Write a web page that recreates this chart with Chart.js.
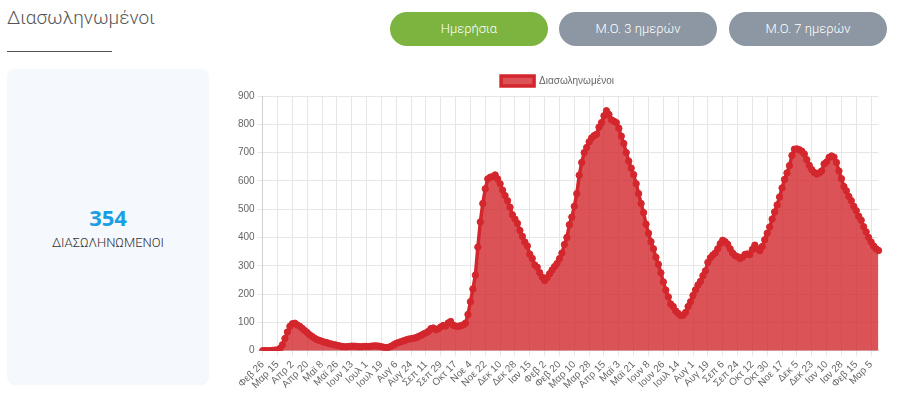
<!DOCTYPE html>
<html lang="el">
<head>
<meta charset="utf-8">
<title>Διασωληνωμένοι</title>
<script src="https://cdn.jsdelivr.net/npm/chart.js@4.4.1/dist/chart.umd.min.js"></script>
<style>
html, body { margin: 0; padding: 0; background: #fff; }
body { width: 900px; height: 414px; position: relative; overflow: hidden; font-family: Roboto, "Open Sans", sans-serif; }
.title { position: absolute; left: 7px; top: 6px; font-size: 19px; font-weight: 300; color: #555; }
.rule { position: absolute; left: 7px; top: 51px; width: 105px; height: 1px; background: #555; }
.btn { position: absolute; top: 12px; width: 158px; height: 34px; line-height: 34px; border-radius: 17px; color: #fff; font-size: 13px; font-weight: 300; text-align: center; }
.btn.on { background: #7db43f; }
.btn.off { background: #8c97a3; }
.card { position: absolute; left: 7px; top: 69px; width: 202px; height: 316px; background: #f5f8fd; border-radius: 8px; text-align: center; }
.card .num { position: absolute; left: 0; right: 0; top: 133px; font-family: "Open Sans", sans-serif; font-size: 22px; font-weight: 700; color: #1a9fe3; }
.card .lbl { position: absolute; left: 0; right: 0; top: 166px; font-size: 13px; font-weight: 300; color: #333; }
.chart-wrap { position: absolute; left: 220px; top: 72px; width: 670px; height: 342px; }
</style>
</head>
<body>
<div class="title">Διασωληνωμένοι</div>
<div class="rule"></div>
<div class="btn on" style="left:390px;">Ημερήσια</div>
<div class="btn off" style="left:559px;">Μ.Ο. 3 ημερών</div>
<div class="btn off" style="left:729px;">Μ.Ο. 7 ημερών</div>
<div class="card">
  <div class="num">354</div>
  <div class="lbl">ΔΙΑΣΩΛΗΝΩΜΕΝΟΙ</div>
</div>
<div class="chart-wrap"><canvas id="chart"></canvas></div>
<script>
// one value every 3 days, from 26 Feb 2020
var startDate = [2020, 1, 26];
var stepDays = 3;
var labelEvery = 6; // a visible tick every 18 days

var intubated = [
  0, 0, 0, 0, 1, 2, 3, 8, 21, 43, 66, 86, 95, 97, 91, 86, 79, 71, 64, 56,
  50, 44, 39, 36, 33, 30, 28, 25, 23, 21, 19, 17, 15, 14, 14, 15, 16, 16, 15, 14,
  14, 15, 15, 15, 16, 17, 17, 16, 14, 12, 11, 12, 16, 21, 26, 29, 32, 35, 38, 41,
  42, 44, 46, 50, 54, 59, 63, 68, 78, 80, 74, 77, 84, 89, 87, 98, 103, 90, 87, 86,
  88, 91, 97, 128, 173, 218, 267, 366, 455, 520, 572, 607, 613, 615, 621, 607, 590, 567, 548, 530,
  507, 480, 465, 450, 425, 404, 384, 370, 341, 326, 303, 295, 276, 260, 248, 258, 272, 285, 297, 308,
  325, 345, 375, 400, 445, 472, 510, 555, 620, 665, 700, 718, 738, 752, 760, 765, 790, 806, 830, 848,
  835, 816, 811, 806, 786, 758, 732, 700, 670, 645, 622, 590, 555, 520, 488, 447, 415, 385, 360, 330,
  305, 275, 243, 214, 190, 165, 156, 140, 132, 124, 125, 135, 156, 173, 195, 215, 232, 245, 265, 282,
  312, 328, 338, 345, 360, 378, 390, 385, 376, 360, 345, 336, 332, 326, 330, 340, 342, 340, 358, 373,
  360, 353, 368, 392, 415, 437, 465, 490, 515, 543, 575, 605, 628, 654, 690, 712, 713, 710, 705, 695,
  675, 655, 640, 630, 624, 628, 635, 660, 667, 683, 688, 684, 665, 635, 608, 580, 565, 545, 530, 510,
  495, 475, 461, 438, 420, 400, 384, 370, 360, 354
];

var tickLabels = [
  "Φεβ 26", "Μαρ 15", "Απρ 2", "Απρ 20", "Μαϊ 8", "Μαϊ 26", "Ιουν 13", "Ιουλ 1", "Ιουλ 19", "Αυγ 6",
  "Αυγ 24", "Σεπ 11", "Σεπ 29", "Οκτ 17", "Νοε 4", "Νοε 22", "Δεκ 10", "Δεκ 28", "Ιαν 15", "Φεβ 2",
  "Φεβ 20", "Μαρ 10", "Μαρ 28", "Απρ 15", "Μαϊ 3", "Μαϊ 21", "Ιουν 8", "Ιουν 26", "Ιουλ 14", "Αυγ 1",
  "Αυγ 19", "Σεπ 6", "Σεπ 24", "Οκτ 12", "Οκτ 30", "Νοε 17", "Δεκ 5", "Δεκ 23", "Ιαν 10", "Ιαν 28",
  "Φεβ 15", "Μαρ 5"
];

var monthNames = ["Ιαν", "Φεβ", "Μαρ", "Απρ", "Μαϊ", "Ιουν", "Ιουλ", "Αυγ", "Σεπ", "Οκτ", "Νοε", "Δεκ"];

var lineColor = "#d3262d";
var fillColor = "rgba(211, 40, 45, 0.8)";
var gridColor = "#e6e6e6";

// category labels (dates) for each point
var categories = intubated.map(function(v, i) {
  var d = new Date(startDate[0], startDate[1], startDate[2] + i * stepDays);
  return monthNames[d.getMonth()] + " " + d.getDate();
});

Chart.defaults.font.family = '"Liberation Sans", Arial, sans-serif';
Chart.defaults.color = "#666";

new Chart(document.getElementById("chart").getContext("2d"), {
  type: "line",
  data: {
    labels: categories,
    datasets: [{
      label: "Διασωληνωμένοι",
      data: intubated,
      borderColor: lineColor,
      backgroundColor: fillColor,
      borderWidth: 3.5,
      pointRadius: 3.2,
      pointBorderWidth: 1,
      pointBackgroundColor: lineColor,
      pointBorderColor: lineColor,
      fill: true,
      tension: 0
    }]
  },
  options: {
    responsive: true,
    maintainAspectRatio: false,
    animation: false,
    layout: { padding: { left: 15, right: 10, top: 0, bottom: 20 } },
    plugins: {
      legend: {
        display: true,
        position: "top",
        labels: { font: { size: 10 }, boxWidth: 33, boxHeight: 10, padding: 4, color: "#666" }
      },
      tooltip: { enabled: false }
    },
    scales: {
      x: {
        grid: {
          color: function(ctx) { return ctx.index % labelEvery === 0 ? gridColor : "rgba(0,0,0,0)"; },
          tickLength: 5
        },
        border: { color: "#cfcfcf" },
        ticks: {
          autoSkip: false,
          minRotation: 45,
          maxRotation: 45,
          font: { size: 10 },
          color: "#666",
          callback: function(value, index) {
            return index % labelEvery === 0 ? (tickLabels[index / labelEvery] || "") : "";
          }
        }
      },
      y: {
        min: 0,
        max: 900,
        grid: { color: gridColor, tickLength: 5 },
        border: { color: "#cfcfcf" },
        ticks: { stepSize: 100, font: { size: 10 }, color: "#666" }
      }
    }
  }
});
</script>
</body>
</html>
